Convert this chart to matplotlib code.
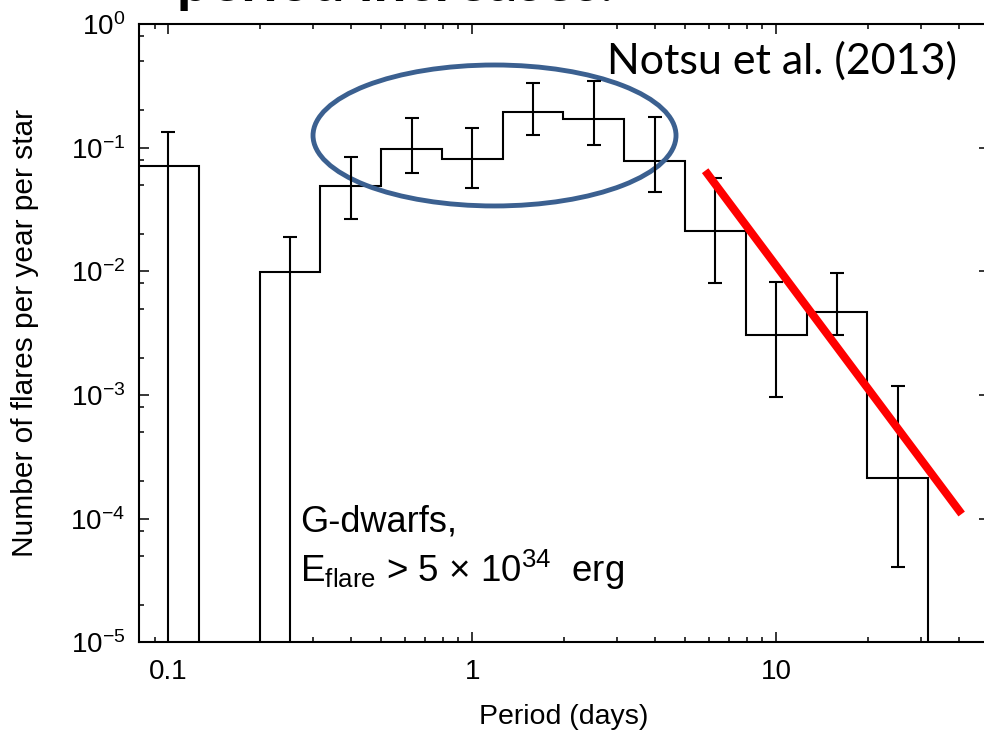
import numpy as np
import matplotlib
matplotlib.use('Agg')
import matplotlib.pyplot as plt
from matplotlib.patches import Ellipse
from matplotlib.ticker import LogLocator, FixedLocator, FixedFormatter, NullFormatter

plt.rcParams['font.family'] = ['Liberation Sans', 'DejaVu Sans']
plt.rcParams['mathtext.default'] = 'regular'

# log10(period) bin edges, 0.2 dex wide
log_edges = [-1.1, -0.9, -0.7, -0.5, -0.3, -0.1, 0.1, 0.3, 0.5, 0.7, 0.9, 1.1, 1.3, 1.5]
# flare rate per bin (0 = empty bin)
rate = [0.0715, 0, 0.0099, 0.049, 0.098, 0.0814, 0.195, 0.170, 0.0773, 0.0211, 0.00305, 0.00466, 0.000212]
# upper / lower ends of the error bars (0 = runs off the bottom)
err_hi = [0.134, 0, 0.019, 0.0845, 0.173, 0.144, 0.331, 0.346, 0.176, 0.0572, 0.00815, 0.00964, 0.00118]
err_lo = [0, 0, 0, 0.0267, 0.062, 0.0472, 0.126, 0.106, 0.0438, 0.0080, 0.00097, 0.00305, 4.09e-5]

# red power-law line
fit_period = [5.84, 40.8]
fit_rate = [0.0651, 1.09e-4]

floor = 1e-9
edges = 10 ** np.array(log_edges)
centers = 10 ** ((np.array(log_edges[:-1]) + np.array(log_edges[1:])) / 2)
r = np.array(rate, dtype=float)
hi = np.array(err_hi, dtype=float)
lo = np.array(err_lo, dtype=float)
lo[lo == 0] = floor

fig = plt.figure(figsize=(9.84, 7.3), dpi=100)
ax = fig.add_axes([139 / 984, (730 - 642.3) / 730, 849.5 / 984, 618.3 / 730])

ax.stairs(np.where(r > 0, r, floor), edges, baseline=floor, color='black', lw=1.5)

has = r > 0
ax.errorbar(centers[has], r[has], yerr=[r[has] - lo[has], hi[has] - r[has]],
            fmt='none', ecolor='black', elinewidth=1.5, capsize=5, capthick=1.5)

ax.plot(fit_period, fit_rate, color='#ff0000', lw=5.8, solid_capstyle='butt')

ax.add_patch(Ellipse((0.4185, 0.8197), 0.4273, 0.228, transform=ax.transAxes,
                     fill=False, edgecolor='#3b6090', lw=3.5))

ax.set_xscale('log')
ax.set_yscale('log')
ax.set_xlim(0.08, 50)
ax.set_ylim(1e-5, 1)

ax.xaxis.set_major_locator(FixedLocator([0.1, 1, 10]))
ax.xaxis.set_major_formatter(FixedFormatter(['0.1', '1', '10']))
ax.xaxis.set_minor_locator(LogLocator(base=10, subs=[2, 3, 4, 5, 6, 7, 8, 9]))
ax.xaxis.set_minor_formatter(NullFormatter())

ydec = [1e-5, 1e-4, 1e-3, 1e-2, 1e-1, 1]
ax.yaxis.set_major_locator(FixedLocator(ydec))
ax.yaxis.set_major_formatter(FixedFormatter([r'$10^{%d}$' % int(np.log10(v)) for v in ydec]))
ax.yaxis.set_minor_locator(LogLocator(base=10, subs=[2, 5, 8]))
ax.yaxis.set_minor_formatter(NullFormatter())

ax.tick_params(which='both', direction='in', top=True, right=True, width=1.1, labelsize=20)
ax.tick_params(which='major', length=7.2)
ax.tick_params(which='minor', length=3.6)
ax.tick_params(axis='x', pad=12)
ax.tick_params(axis='y', pad=10)
for s in ax.spines.values():
    s.set_linewidth(1.5)

ax.set_xlabel('Period (days)', fontsize=20.5)
ax.xaxis.set_label_coords(0.5, -0.1)
ax.set_ylabel('Number of flares per year per star', fontsize=21.5)
ax.yaxis.set_label_coords(-0.118, 0.5)

fig.text(607 / 984, 1 - 74 / 730, 'Notsu et al. (2013)', fontsize=31, family=['Lato', 'DejaVu Sans'],
         ha='left', va='baseline')
fig.text(300 / 984, 1 - 531.7 / 730, 'G-dwarfs,', fontsize=26, ha='left', va='baseline')
fig.text(300 / 984, 1 - 581.7 / 730, 'E$_{flare}$ > 5 \u00d7 10$^{34}$  erg', fontsize=26.5,
         ha='left', va='baseline')

# slide title, mostly cut off at the top edge
fig.text(177 / 984, 1 - 1 / 730, 'period increases.', fontsize=42, fontweight='bold',
         family=['Lato', 'DejaVu Sans'], ha='left', va='baseline')

fig.savefig('out.png', dpi=100)
